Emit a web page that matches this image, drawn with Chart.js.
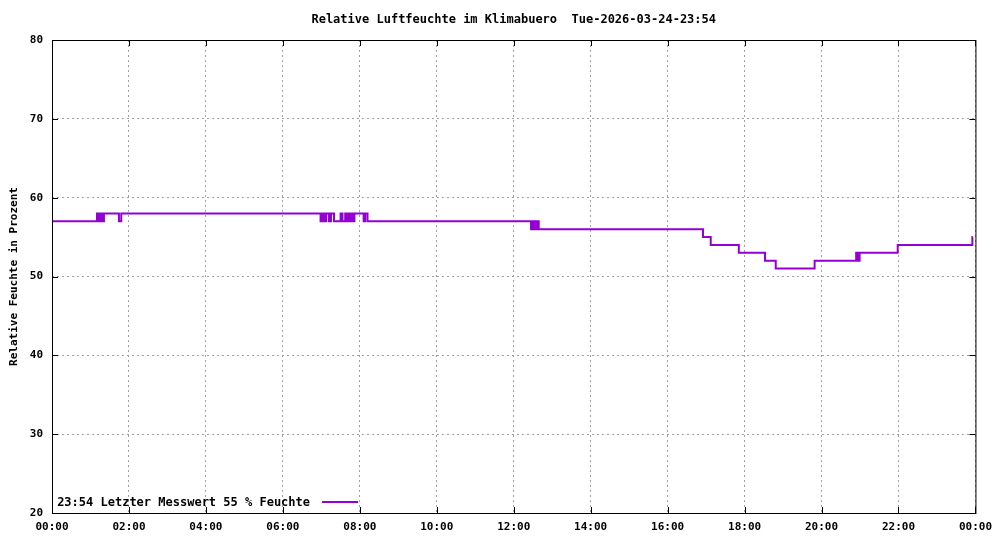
<!DOCTYPE html>
<html><head><meta charset="utf-8">
<script src="https://cdn.jsdelivr.net/npm/chart.js@4/dist/chart.umd.min.js"></script>
<style>html,body{margin:0;background:#fff}#wrap{width:1000px;height:540px}</style>
</head><body><div id="wrap"><canvas id="c"></canvas></div>
<script>
// ===== Daten (Stunden seit Mitternacht, Feuchte %) =====
const times = [0, 1.17, 1.2, 1.23, 1.26, 1.29, 1.32, 1.35, 1.74, 1.8, 6.98, 7.03, 7.08, 7.13, 7.2, 7.25, 7.33, 7.5, 7.55, 7.62, 7.66, 7.7, 7.74, 7.78, 7.82, 7.86, 8.1, 8.14, 8.2, 12.45, 12.5, 12.55, 12.6, 12.65, 12.7, 16.92, 17.12, 17.85, 18.53, 18.81, 19.82, 20.9, 20.95, 20.99, 21.98, 23.92, 23.93];
const values = [57, 58, 57, 58, 57, 58, 57, 58, 57, 58, 57, 58, 57, 58, 57, 58, 57, 58, 57, 58, 57, 58, 57, 58, 57, 58, 57, 58, 57, 56, 57, 56, 57, 56, 56, 55, 54, 53, 52, 51, 52, 53, 52, 53, 54, 55, 55];
const xTicks = ["00:00","02:00","04:00","06:00","08:00","10:00","12:00","14:00","16:00","18:00","20:00","22:00","00:00"];
const titleText = "Relative Luftfeuchte im Klimabuero  Tue-2026-03-24-23:54";
const legendText = "23:54 Letzter Messwert 55 % Feuchte";
const yLabel = "Relative Feuchte in Prozent";
const lineColor = "#9400d3";
const FONT = "'DejaVu Sans Mono', monospace";

// ===== Titel + Legende selbst zeichnen =====
const gnuplotText = {
  id: "gnuplotText",
  afterDraw(chart) {
    const ctx = chart.ctx, a = chart.chartArea;
    ctx.save();
    ctx.fillStyle = "#000";
    ctx.font = "bold 12px " + FONT;
    ctx.textAlign = "center";
    ctx.textBaseline = "middle";
    ctx.fillText(titleText, (a.left + a.right) / 2, 20);
    ctx.textAlign = "right";
    ctx.fillText(legendText, 310, 503);
    ctx.strokeStyle = lineColor;
    ctx.lineWidth = 2;
    ctx.beginPath(); ctx.moveTo(322, 502); ctx.lineTo(358, 502); ctx.stroke();
    // Rahmen + Ticks nach innen
    ctx.strokeStyle = "#000"; ctx.lineWidth = 1;
    ctx.strokeRect(a.left + 0.5, a.top + 0.5, a.right - a.left, a.bottom - a.top);
    ctx.beginPath();
    chart.scales.x.ticks.forEach((t, i) => {
      const x = Math.round(chart.scales.x.getPixelForTick(i)) + 0.5;
      ctx.moveTo(x, a.bottom); ctx.lineTo(x, a.bottom - 6);
      ctx.moveTo(x, a.top); ctx.lineTo(x, a.top + 6);
    });
    chart.scales.y.ticks.forEach((t, i) => {
      const y = Math.round(chart.scales.y.getPixelForTick(i)) + 0.5;
      ctx.moveTo(a.left, y); ctx.lineTo(a.left + 6, y);
      ctx.moveTo(a.right, y); ctx.lineTo(a.right - 6, y);
    });
    ctx.stroke();
    ctx.restore();
  }
};

new Chart(document.getElementById("c"), {
  type: "line",
  data: {
    datasets: [{
      data: times.map((t, i) => ({ x: t, y: values[i] })),
      borderColor: lineColor, borderWidth: 2, pointRadius: 0,
      stepped: true, tension: 0
    }]
  },
  options: {
    responsive: true, maintainAspectRatio: false, animation: false,
    layout: { padding: { top: 40, right: 23, left: 8, bottom: 0 } },
    plugins: { legend: { display: false }, tooltip: { enabled: false } },
    scales: {
      x: {
        type: "linear", min: 0, max: 24,
        afterFit: s => { s.height = 27; },
        border: { display: false, dash: [2, 3] },
        grid: { color: "#a0a0a0", lineWidth: 1, drawTicks: false },
        ticks: { stepSize: 2, maxRotation: 0, padding: 8, color: "#000",
          font: { family: FONT, size: 11, weight: "bold" },
          callback: v => xTicks[v / 2] }
      },
      y: {
        min: 20, max: 80,
        afterFit: s => { s.width = 44; },
        border: { display: false, dash: [2, 3] },
        grid: { color: "#a0a0a0", lineWidth: 1, drawTicks: false },
        title: { display: true, text: yLabel, color: "#000", padding: 0,
          font: { family: FONT, size: 11, weight: "bold" } },
        ticks: { stepSize: 10, padding: 9, color: "#000",
          font: { family: FONT, size: 11, weight: "bold" } }
      }
    }
  },
  plugins: [gnuplotText]
});
</script></body></html>
